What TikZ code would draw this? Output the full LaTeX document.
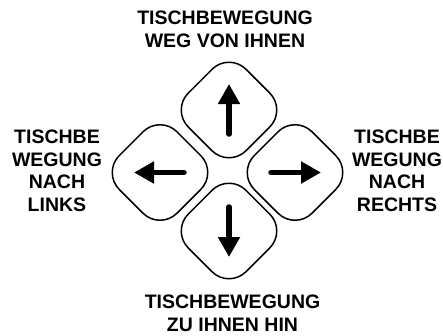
\documentclass[tikz,border=0pt]{standalone}
\usepackage{fontspec}
\setmainfont{Liberation Sans}
\usetikzlibrary{shapes.geometric,arrows.meta}
\begin{document}
\begin{tikzpicture}[x=1pt,y=-1pt,
  key/.style={diamond, draw, line width=1.5pt, minimum width=116pt,
    minimum height=116pt, inner sep=0pt, rounded corners=24pt},
  dirarrow/.style={line width=5.5pt, line cap=round,
    -{Triangle[length=20pt 0 0,width=21pt 0 0]}},
  caption/.style={align=center, inner sep=0pt,
    font=\bfseries\fontsize{19.5}{22.5}\selectfont}]
\useasboundingbox (0,0) rectangle (443,335);

% the four direction keys
\node[key] (away)  at (229,110) {};
\node[key] (toward) at (229,231) {};
\node[key] (left)  at (160,172.5) {};
\node[key] (right) at (295,172.5) {};

% arrows inside the keys
\draw[dirarrow] ([yshift=-24pt]away.center) -- ([yshift=26pt]away.center);
\draw[dirarrow] ([yshift=24pt]toward.center) -- ([yshift=-26pt]toward.center);
\draw[dirarrow] ([xshift=24pt]left.center) -- ([xshift=-26pt]left.center);
\draw[dirarrow] ([xshift=-24pt]right.center) -- ([xshift=26pt]right.center);

% captions
\node[caption] (capaway)   at (225,29.5)  {TISCHBEWEGUNG\\WEG VON IHNEN};
\node[caption] (captoward) at (232.5,313.5) {TISCHBEWEGUNG\\ZU IHNEN HIN};
\node[caption] (capleft)   at (57,171)    {TISCHBE\\WEGUNG\\NACH\\LINKS};
\node[caption] (capright)  at (397,171)   {TISCHBE\\WEGUNG\\NACH\\RECHTS};
\end{tikzpicture}
\end{document}
